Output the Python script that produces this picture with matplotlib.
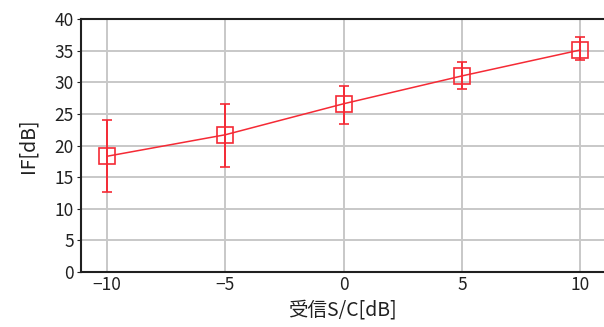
import matplotlib.pyplot as plt

plt.rcParams['font.family'] = ['Noto Sans CJK JP', 'DejaVu Sans']

# received S/C [dB] and IF [dB] with asymmetric error bars
sc_db = [-10, -5, 0, 5, 10]
if_db = [18.3, 21.7, 26.6, 31.0, 35.1]
err_low = [5.7, 5.1, 3.2, 2.1, 1.6]
err_high = [5.7, 4.8, 2.8, 2.2, 2.1]
x_ticks = [-10, -5, 0, 5, 10]
y_ticks = [0, 5, 10, 15, 20, 25, 30, 35, 40]

fig = plt.figure(figsize=(6.04, 3.27), dpi=100)
ax = fig.add_axes([0.134, 0.168, 0.866, 0.774])

red = '#f52a35'
ax.errorbar(sc_db, if_db, yerr=[err_low, err_high], color=red, lw=1.1,
            marker='s', markersize=11, markerfacecolor='none',
            markeredgecolor=red, markeredgewidth=1.2,
            ecolor=red, elinewidth=1.4, capsize=3.5, capthick=1.4, zorder=3)

ax.set_xlim(-11.1, 11.0)
ax.set_ylim(0, 40)
ax.set_xticks(x_ticks)
ax.set_xticklabels(['\u221210', '\u22125', '0', '5', '10'])
ax.set_yticks(y_ticks)
ax.grid(True, color='#c8c8c8', lw=1.4)
ax.set_axisbelow(True)

for side in ['left', 'bottom', 'top']:
    ax.spines[side].set_color('#202020')
    ax.spines[side].set_linewidth(1.5)
ax.spines['right'].set_visible(False)

ax.tick_params(axis='both', labelsize=12.5, colors='#202020', length=3, pad=2)
ax.tick_params(axis='x', length=0, pad=3)

ax.set_xlabel('受信S/C[dB]', fontsize=14, color='#202020', labelpad=4)
ax.set_ylabel('IF[dB]', fontsize=14, color='#202020', labelpad=12)

fig.savefig('out.png', dpi=100)
